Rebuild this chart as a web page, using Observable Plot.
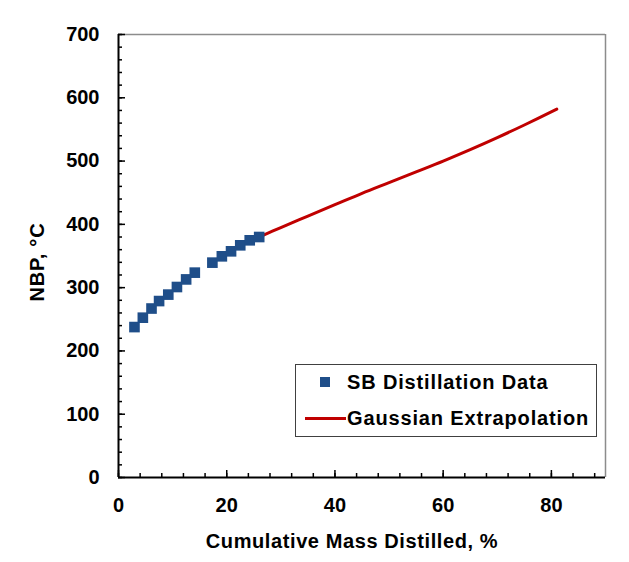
<!DOCTYPE html>
<html>
<head>
<meta charset="utf-8">
<script src="https://cdn.jsdelivr.net/npm/d3@7"></script>
<script src="https://cdn.jsdelivr.net/npm/@observablehq/plot@0.6"></script>
<style>
  html, body { margin: 0; padding: 0; background: white; }
  #wrap { position: relative; width: 629px; height: 562px; }
  #legend {
    position: absolute; left: 295px; top: 364px; width: 300px; height: 71px;
    border: 1px solid #404040; background: white; box-sizing: content-box;
    font-family: "Liberation Sans", Arial, sans-serif; font-weight: bold; font-size: 20px; letter-spacing: 0.85px; color: #000;
  }
  .row { position: absolute; left: 0; height: 24px; display: flex; align-items: center; white-space: nowrap; }
  .sym { width: 51px; height: 24px; position: relative; flex: none; }
  .sq { position: absolute; left: 24px; top: 7px; width: 10px; height: 10px; }
  .ln { position: absolute; left: 9px; top: 11px; width: 41px; height: 3px; }
</style>
</head>
<body>
<div id="wrap"></div>
<script>
// Data: SB distillation points
const dataX = [2.95, 4.5, 6.1, 7.5, 9.2, 10.8, 12.5, 14.1, 17.35, 19.1, 20.8, 22.5, 24.25, 26.0];
const dataY = [237.7, 252.5, 267, 278.8, 289, 301, 313, 323.7, 339.5, 349.5, 357.4, 366.9, 374.8, 380];
// Gaussian extrapolation curve
const curveX = [26, 30, 35, 40, 45, 50, 55, 60, 65, 70, 75, 81];
const curveY = [380, 395, 413, 431, 449, 466, 483, 500, 518, 537, 557, 582];
// Ticks
const xMajor = [0, 20, 40, 60, 80];
const xMinor = d3.range(0, 90, 4);
const yMajor = [0, 100, 200, 300, 400, 500, 600, 700];
const yMinor = d3.range(0, 701, 20);
// Texts
const xTitle = "Cumulative Mass Distilled, %";
const yTitle = "NBP, °C";
const seriesNames = ["SB Distillation Data", "Gaussian Extrapolation"];
const seriesColors = ["#1f4e89", "#c00000"];

const points = dataX.map((x, i) => ({x, y: dataY[i]}));
const curve = curveX.map((x, i) => ({x, y: curveY[i]}));

const chart = Plot.plot({
  width: 629,
  height: 562,
  marginLeft: 118,
  marginRight: 24,
  marginTop: 34,
  marginBottom: 85,
  style: {fontFamily: "'Liberation Sans', Arial, sans-serif", fontSize: "20px", fontWeight: "bold", color: "black", background: "white"},
  x: {domain: [0, 90]},
  y: {domain: [0, 700]},
  marks: [
    Plot.ruleY([700], {stroke: "#8c8c8c", strokeWidth: 1.5}),
    Plot.ruleX([90], {stroke: "#8c8c8c", strokeWidth: 1.5}),
    Plot.axisX(xMinor, {tickSize: -4, tickFormat: () => "", label: null, stroke: "black", strokeWidth: 1.5}),
    Plot.axisX(xMajor, {tickSize: -7, tickFormat: () => "", label: null, stroke: "black", strokeWidth: 1.5}),
    Plot.axisX(xMajor, {tickSize: 0, tickPadding: 20, label: null, fill: "black", fontSize: 20}),
    Plot.axisY(yMinor, {tickSize: -4, tickFormat: () => "", label: null, stroke: "black", strokeWidth: 1.5}),
    Plot.axisY(yMajor, {tickSize: -7, tickFormat: () => "", label: null, stroke: "black", strokeWidth: 1.5}),
    Plot.axisY(yMajor, {tickSize: 0, tickPadding: 19, label: null, fill: "black", fontSize: 20}),
    Plot.ruleY([0], {stroke: "black", strokeWidth: 2}),
    Plot.ruleX([0], {stroke: "black", strokeWidth: 2}),
    Plot.line(curve, {x: "x", y: "y", stroke: seriesColors[1], strokeWidth: 3, curve: "catmull-rom"}),
    Plot.dot(points, {x: "x", y: "y", symbol: "square", r: 6, fill: seriesColors[0], stroke: "none"}),
    Plot.text([xTitle], {frameAnchor: "bottom", lineAnchor: "bottom", textAnchor: "middle", dy: 70, dx: -10, fontSize: 20, fontWeight: "bold", fill: "black"}),
    Plot.text([yTitle], {frameAnchor: "left", lineAnchor: "top", textAnchor: "middle", rotate: -90, dx: -89, dy: 6, fontSize: 20, fontWeight: "bold", fill: "black"})
  ]
});

const wrap = document.getElementById("wrap");
wrap.appendChild(chart);
chart.querySelectorAll("text").forEach(t => {
  if (t.textContent === xTitle) t.style.letterSpacing = "0.6px";
  if (t.textContent === yTitle) t.style.letterSpacing = "0.8px";
});

const legend = document.createElement("div");
legend.id = "legend";
legend.innerHTML = `
  <div class="row" style="top:5px"><div class="sym"><div class="sq" style="background:${seriesColors[0]}"></div></div><span>${seriesNames[0]}</span></div>
  <div class="row" style="top:41px"><div class="sym"><div class="ln" style="background:${seriesColors[1]}"></div></div><span>${seriesNames[1]}</span></div>`;
wrap.appendChild(legend);
</script>
</body>
</html>
